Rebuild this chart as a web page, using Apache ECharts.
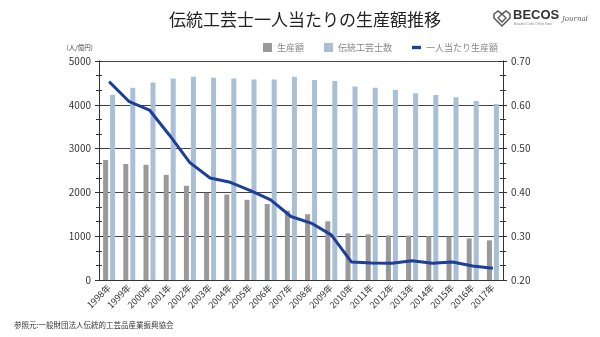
<!DOCTYPE html>
<html><head><meta charset="utf-8">
<script src="https://cdn.jsdelivr.net/npm/echarts@6/dist/echarts.min.js"></script>
<style>html,body{margin:0;padding:0;background:#fff}#c{width:600px;height:337px}</style>
</head><body><div id="c"></div>
<script>
const years = ['1998年','1999年','2000年','2001年','2002年','2003年','2004年','2005年','2006年','2007年','2008年','2009年','2010年','2011年','2012年','2013年','2014年','2015年','2016年','2017年'];
const production = [2740,2650,2630,2400,2150,1990,1950,1830,1735,1580,1500,1340,1065,1043,1020,1013,1000,990,950,905];
const craftsmen = [4224,4390,4510,4600,4640,4620,4600,4580,4580,4640,4566,4543,4415,4390,4338,4262,4224,4170,4087,4018];
const perCapita = [0.653,0.607,0.588,0.530,0.468,0.433,0.423,0.404,0.383,0.345,0.330,0.303,0.241,0.239,0.238,0.244,0.238,0.241,0.232,0.227];
const leftTicks = [0,1000,2000,3000,4000,5000];
const rightTicks = [0.2,0.3,0.4,0.5,0.6,0.7];

const font = '"Noto Sans CJK JP", "Noto Sans", sans-serif';
const chart = echarts.init(document.getElementById('c'));
const tickStyle = {color:'#333', width:1};
function yAx(min,max,interval,pos,showLabel,inside,fmt){
  return {
    type:'value', position:pos, min:min, max:max, interval:interval,
    axisLine:{show:true, lineStyle:{color:'#333', width:1}},
    axisTick:{show:true, inside:inside, length:4, lineStyle:tickStyle},
    minorTick:{show:true, splitNumber:3, length:3, lineStyle:tickStyle},
    axisLabel:{show:showLabel, color:'#333', fontSize:10, fontFamily:font, margin:8, formatter:fmt},
    splitLine:{show:false}
  };
}
const axes = [
  yAx(leftTicks[0], leftTicks[leftTicks.length-1], 1000, 'left', true, false, v=>String(v)),
  yAx(rightTicks[0], rightTicks[rightTicks.length-1], 0.1, 'right', true, false, v=>v.toFixed(2)),
  yAx(leftTicks[0], leftTicks[leftTicks.length-1], 1000, 'left', false, true),
  yAx(rightTicks[0], rightTicks[rightTicks.length-1], 0.1, 'right', false, true)
];
axes[0].splitLine = {show:true, lineStyle:{color:'#444', width:1}};
axes[0].name = '(人/億円)';
axes[0].nameLocation = 'end';
axes[0].nameGap = 10;
axes[0].nameTextStyle = {color:'#444', fontSize:6.5, fontFamily:font, align:'right', padding:[0,6,0,0]};

chart.setOption({
  animation:false,
  title:{text:'伝統工芸士一人当たりの生産額推移', left:300, textAlign:'center', top:6,
    textStyle:{fontSize:17, fontWeight:'normal', color:'#222', fontFamily:font}},
  legend:{top:38, left:258, itemWidth:9, itemHeight:9, itemGap:20,
    textStyle:{color:'#888', fontSize:9, fontFamily:font},
    data:[{name:'生産額', icon:'rect'},{name:'伝統工芸士数', icon:'rect'},{name:'一人当たり生産額', icon:'path://M0 0 H24 V9 H0 Z'}]},
  grid:{left:99, right:97, top:61, bottom:57},
  xAxis:{type:'category', data:years, boundaryGap:true,
    axisLine:{lineStyle:{color:'#333'}}, axisTick:{show:false},
    axisLabel:{rotate:45, color:'#333', fontSize:9, fontFamily:font, margin:6, interval:0}},
  yAxis:axes,
  graphic:[
    {type:'text', x:14, y:321, style:{text:'参照元:一般財団法人伝統的工芸品産業振興協会', fontSize:7.5, fill:'#333', fontFamily:font}},
    {type:'text', x:513, y:9, style:{text:'BECOS', fontSize:13, fontWeight:'bold', fill:'#333', fontFamily:'"Liberation Sans", sans-serif'}},
    {type:'text', x:514, y:23, style:{text:'Beautiful Crafts Online Store', fontSize:3, fill:'#888', fontFamily:'sans-serif'}},
    {type:'text', x:562, y:16, style:{text:'Journal', fontSize:7, fontStyle:'italic', fill:'#555', fontFamily:'"DejaVu Serif", serif'}},
    {type:'polygon', shape:{points:[[502,26],[494,18],[494,14],[498,11],[502,14],[506,11],[510,14],[510,18]]},
      style:{fill:'none', stroke:'#555', lineWidth:1.5}},
    {type:'polygon', shape:{points:[[502,22],[498,18],[502,14],[506,18]]},
      style:{fill:'none', stroke:'#555', lineWidth:1.3}}
  ],
  series:[
    {name:'生産額', type:'bar', yAxisIndex:0, data:production, barWidth:5, barGap:'40%', itemStyle:{color:'#999999'}},
    {name:'伝統工芸士数', type:'bar', yAxisIndex:0, data:craftsmen, barWidth:5, itemStyle:{color:'#a9bfd5'}},
    {name:'一人当たり生産額', type:'line', yAxisIndex:1, data:perCapita, symbol:'none', lineStyle:{color:'#1e3f99', width:3}, itemStyle:{color:'#1e3f99'}}
  ]
});
</script></body></html>
